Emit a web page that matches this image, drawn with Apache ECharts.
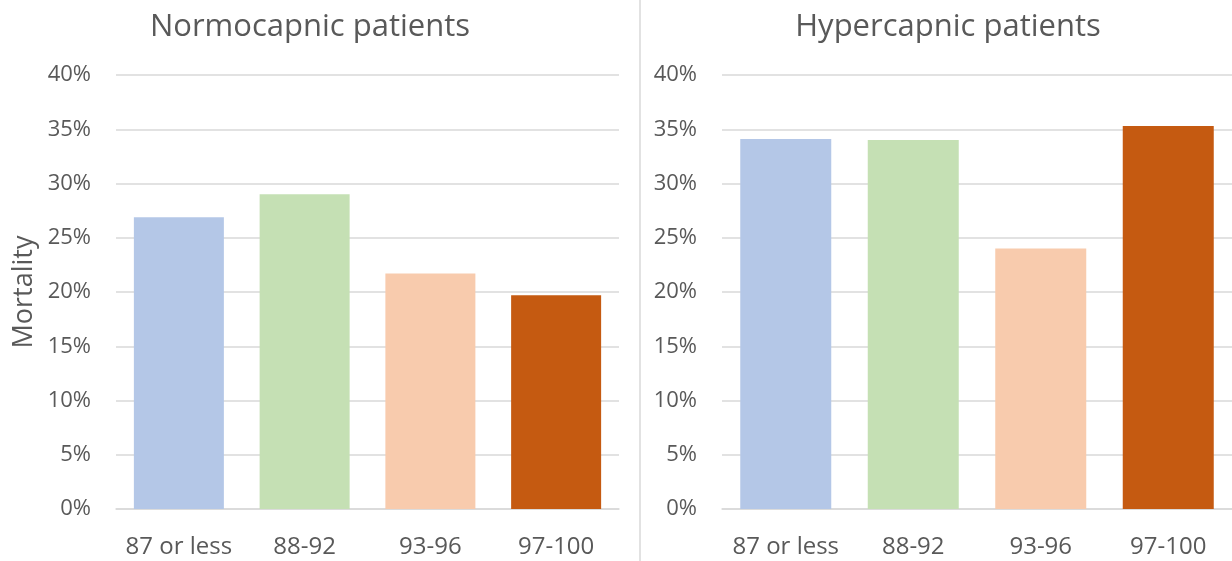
<!DOCTYPE html>
<html><head><meta charset="utf-8">
<script src="https://cdn.jsdelivr.net/npm/echarts@6/dist/echarts.min.js"></script>
<style>html,body{margin:0;padding:0;background:#fff}#c{width:1232px;height:561px}</style>
</head><body><div id="c"></div>
<script>
const categories = ['87 or less', '88-92', '93-96', '97-100'];
const normocapnic = [0.269, 0.290, 0.217, 0.197];
const hypercapnic = [0.341, 0.340, 0.240, 0.353];
const barColors = ['#B4C7E7', '#C5E0B4', '#F8CBAD', '#C55A11'];
const yTicks = [0, 0.05, 0.10, 0.15, 0.20, 0.25, 0.30, 0.35, 0.40];

const txt = '#595959';
const font = 'Open Sans';
function yAxis(idx, name) {
  return {
    gridIndex: idx, type: 'value', min: yTicks[0], max: yTicks[yTicks.length - 1], interval: yTicks[1] - yTicks[0],
    name: name, nameLocation: 'middle', nameGap: 78, nameRotate: 90,
    nameTextStyle: {color: txt, fontSize: 27, fontFamily: font},
    axisLine: {show: false}, axisTick: {show: false},
    axisLabel: {color: txt, fontSize: 22, fontFamily: font, margin: 25,
      formatter: v => Math.round(v * 100) + '%'},
    splitLine: {lineStyle: {color: '#D9D9D9', width: 1.5}}
  };
}
function xAxis(idx) {
  return {
    gridIndex: idx, type: 'category', data: categories,
    axisLine: {lineStyle: {color: '#D9D9D9', width: 1.5}}, axisTick: {show: false},
    axisLabel: {color: txt, fontSize: 24, fontFamily: font, margin: 26, interval: 0}
  };
}
function series(idx, vals, bw) {
  return {
    type: 'bar', xAxisIndex: idx, yAxisIndex: idx, barWidth: bw,
    data: vals.map((v, i) => ({value: v, itemStyle: {color: barColors[i]}}))
  };
}
const chart = echarts.init(document.getElementById('c'), null, {renderer: 'canvas'});
chart.setOption({
  animation: false,
  title: [
    {text: 'Normocapnic patients', left: 310, top: 12, textAlign: 'center', padding: 0,
     textStyle: {color: txt, fontSize: 31, fontWeight: 'normal', fontFamily: font}},
    {text: 'Hypercapnic patients', left: 948, top: 12, textAlign: 'center', padding: 0,
     textStyle: {color: txt, fontSize: 31, fontWeight: 'normal', fontFamily: font}}
  ],
  grid: [
    {left: 116, width: 503, top: 75, bottom: 52},
    {left: 722, width: 512, top: 75, bottom: 52}
  ],
  xAxis: [xAxis(0), xAxis(1)],
  yAxis: [yAxis(0, 'Mortality'), yAxis(1, '')],
  series: [series(0, normocapnic, 90), series(1, hypercapnic, 91)],
  graphic: [{type: 'line', shape: {x1: 640, y1: 0, x2: 640, y2: 561},
    style: {stroke: '#D9D9D9', lineWidth: 1.5}}]
});
</script></body></html>
